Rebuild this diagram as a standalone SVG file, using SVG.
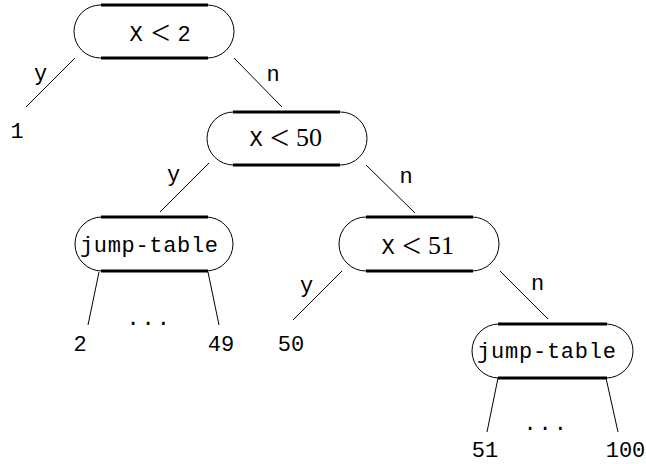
<svg xmlns="http://www.w3.org/2000/svg" width="646" height="464" viewBox="0 0 646 464">
<style>
.box{fill:#fff;stroke:#000;stroke-width:1}
.thick{stroke:#000;stroke-width:3;stroke-linecap:butt}
.edge{stroke:#000;stroke-width:1}
.tt{font-family:"Liberation Mono",monospace;font-size:22px;fill:#000}
.m{font-family:"Liberation Serif",serif;font-size:26px;fill:#000}
.lt{font-family:"Liberation Serif",serif;font-size:34px;fill:#000}
.mid{text-anchor:middle}
</style>
<rect width="646" height="464" fill="#fff"/>
<g id="connectors">
<line class="edge" x1="75" y1="58" x2="26" y2="107"/>
<line class="edge" x1="234" y1="58" x2="282" y2="107"/>
<line class="edge" x1="209" y1="163" x2="160" y2="212"/>
<line class="edge" x1="366" y1="165" x2="415" y2="213"/>
<line class="edge" x1="99" y1="272" x2="88" y2="325"/>
<line class="edge" x1="208" y1="272" x2="219" y2="325"/>
<line class="edge" x1="342" y1="271" x2="293" y2="320"/>
<line class="edge" x1="500" y1="271" x2="548" y2="319"/>
<line class="edge" x1="498" y1="378" x2="487" y2="432"/>
<line class="edge" x1="606" y1="378" x2="618" y2="432"/>
<text class="tt mid" x="40.5" y="80">y</text>
<text class="tt mid" x="273" y="81">n</text>
<text class="tt mid" x="173.5" y="181">y</text>
<text class="tt mid" x="406" y="183">n</text>
<text class="tt mid" x="306.5" y="292">y</text>
<text class="tt mid" x="537.5" y="290">n</text>
</g>
<g id="node1">
<rect class="box" x="74" y="5" width="160" height="53" rx="26.5"/>
<line class="thick" x1="101" y1="5" x2="208" y2="5"/>
<line class="thick" x1="101" y1="58" x2="208" y2="58"/>
<text class="tt" x="129.5" y="41">X</text>
<text class="lt" x="151" y="44">&lt;</text>
<text class="tt mid" x="184" y="41">2</text>
</g>
<g id="node2">
<rect class="box" x="207" y="112" width="160" height="53" rx="26.5"/>
<line class="thick" x1="233" y1="112" x2="340" y2="112"/>
<line class="thick" x1="233" y1="165" x2="340" y2="165"/>
<text class="tt" x="249.5" y="146">X</text>
<text class="lt" x="270" y="149">&lt;</text>
<text class="m" x="296" y="146">50</text>
</g>
<g id="node3">
<rect class="box" x="75" y="217" width="158" height="54" rx="27"/>
<line class="thick" x1="101" y1="217" x2="208" y2="217"/>
<line class="thick" x1="101" y1="271" x2="208" y2="271"/>
<text class="tt" x="80" y="252" textLength="138">jump-table</text>
</g>
<g id="node4">
<rect class="box" x="339" y="217" width="160" height="54" rx="27"/>
<line class="thick" x1="366" y1="217" x2="473" y2="217"/>
<line class="thick" x1="366" y1="271" x2="473" y2="271"/>
<text class="tt" x="381.5" y="254">X</text>
<text class="lt" x="402" y="257">&lt;</text>
<text class="m" x="428" y="254">51</text>
</g>
<g id="node5">
<rect class="box" x="472" y="324" width="161" height="54" rx="27"/>
<line class="thick" x1="498" y1="324" x2="607" y2="324"/>
<line class="thick" x1="498" y1="378" x2="607" y2="378"/>
<text class="tt" x="477" y="358" textLength="139">jump-table</text>
</g>
<g id="leaves">
<text class="tt mid" x="17" y="138">1</text>
<text class="tt mid" x="80" y="351">2</text>
<text class="tt mid" x="221" y="351">49</text>
<text class="tt mid" x="291" y="351">50</text>
<text class="tt" x="126.4" y="325" letter-spacing="2">...</text>
<text class="tt" x="523.4" y="430" letter-spacing="2">...</text>
<text class="tt mid" x="485" y="457">51</text>
<text class="tt mid" x="625.5" y="457">100</text>
</g>
</svg>
